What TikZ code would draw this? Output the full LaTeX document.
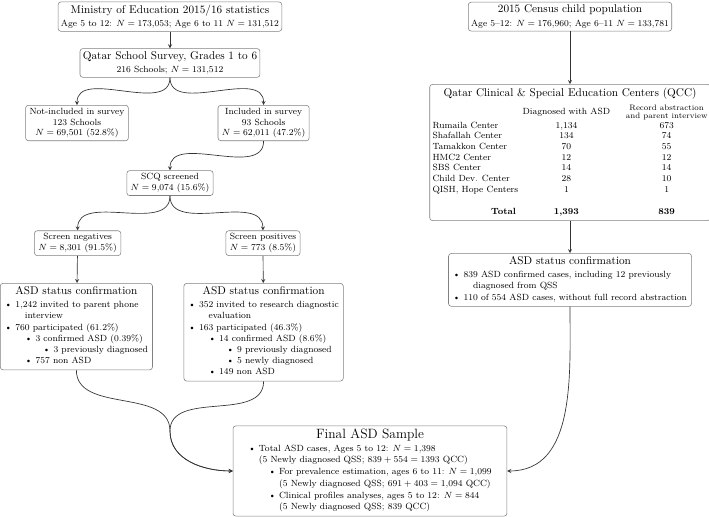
\documentclass[tikz,border=0pt]{standalone}
\usepackage{tikz}
\usetikzlibrary{arrows,backgrounds,calc}
\usepackage{amssymb}
\usepackage{amsmath}
\newcommand{\itA}{\textbullet\ }
\newcommand{\itB}{\hspace*{18pt}\textbullet\ }
\newcommand{\itC}{\hspace*{34pt}\textbullet\ }
\newcommand{\itW}{\hspace*{18pt}}
\tikzset{
  box/.style={draw=black!50, line width=0.5pt, rounded corners=2.5pt, fill=white, align=center, inner sep=2.5pt},
  arr/.style={-stealth, draw=black!80, line width=0.6pt}
}
\begin{document}
\begin{tikzpicture}
\fill[white] (0cm,0cm) rectangle (22.19cm,-16.15cm);
\useasboundingbox (0cm,0cm) rectangle (22.19cm,-16.15cm);
\node[box] (ministry) at (5.32cm,-0.52cm) {Ministry of Education 2015/16 statistics\\ {\footnotesize Age 5 to 12: $N = 173{,}053$; Age 6 to 11 $N = 131{,}512$}};
\node[box] (qss) at (5.32cm,-1.97cm) {Qatar School Survey, Grades 1 to 6\\ {\footnotesize 216 Schools; $N = 131{,}512$}};
\node[box, font=\footnotesize, inner xsep=3.5pt] (notinc) at (2.41cm,-3.85cm) {Not-included in survey\\ 123 Schools\\ $N = 69{,}501$ (52.8\%)};
\node[box, font=\footnotesize, inner xsep=3.5pt] (inc) at (8.25cm,-3.85cm) {Included in survey\\ 93 Schools\\ $N = 62{,}011$ (47.2\%)};
\node[box, font=\footnotesize, inner xsep=3.5pt] (scq) at (5.32cm,-5.73cm) {SCQ screened\\ $N = 9{,}074$ (15.6\%)};
\node[box, font=\footnotesize, inner xsep=3.5pt] (neg) at (2.43cm,-7.61cm) {Screen negatives\\ $N = 8{,}301$ (91.5\%)};
\node[box, font=\footnotesize, inner xsep=3.5pt] (pos) at (8.23cm,-7.61cm) {Screen positives\\ $N = 773$ (8.5\%)};
\node[box, anchor=north, font=\footnotesize, inner xsep=4pt] (asdleft) at (2.39cm,-8.86cm) {\renewcommand{\arraystretch}{1.05}\begin{tabular}{@{}l@{}}
\multicolumn{1}{@{}c@{}}{\normalsize ASD status confirmation}\\[2pt]
\itA 1,242 invited to parent phone\\
\itW interview\\
\itA 760 participated (61.2\%)\\
\itB 3 confirmed ASD (0.39\%)\\
\itC 3 previously diagnosed\\
\itB 757 non ASD
\end{tabular}};
\node[box, anchor=north, font=\footnotesize, inner xsep=4pt] (asdmid) at (8.25cm,-8.86cm) {\renewcommand{\arraystretch}{1.05}\begin{tabular}{@{}l@{}}
\multicolumn{1}{@{}c@{}}{\normalsize ASD status confirmation}\\[2pt]
\itA 352 invited to research diagnostic\\
\itW evaluation\\
\itA 163 participated (46.3\%)\\
\itB 14 confirmed ASD (8.6\%)\\
\itC 9 previously diagnosed\\
\itC 5 newly diagnosed\\
\itB 149 non ASD
\end{tabular}};
\node[box] (census) at (17.84cm,-0.52cm) {2015 Census child population\\ {\footnotesize Age 5--12: $N = 176{,}960$; Age 6--11 $N = 133{,}781$}};
\node[box, anchor=north, minimum width=8.64cm, inner ysep=3pt] (qcc) at (17.84cm,-2.63cm) {Qatar Clinical \& Special Education Centers (QCC)\\[4pt]
{\footnotesize\begin{tabular}{@{}l@{\hspace{4pt}}c@{\hspace{14pt}}c@{}}
 & Diagnosed with ASD & {\scriptsize\renewcommand{\arraystretch}{0.9}\begin{tabular}{@{}c@{}}Record abstraction\\ and parent interview\end{tabular}}\\
Rumaila Center & 1,134 & 673\\
Shafallah Center & 134 & 74\\
Tamakkon Center & 70 & 55\\
HMC2 Center & 12 & 12\\
SBS Center & 14 & 14\\
Child Dev. Center & 28 & 10\\
QISH, Hope Centers & 1 & 1\\[10pt]
\multicolumn{1}{r}{\textbf{Total}} & \textbf{1,393} & \textbf{839}
\end{tabular}}};
\node[box, font=\footnotesize, inner xsep=4pt] (asdright) at (17.84cm,-8.76cm) {\renewcommand{\arraystretch}{1.05}\begin{tabular}{@{}l@{}}
\multicolumn{1}{@{}c@{}}{\normalsize ASD status confirmation}\\[2pt]
\itA 839 ASD confirmed cases, including 12 previously\\
\itW diagnosed from QSS\\
\itA 110 of 554 ASD cases, without full record abstraction
\end{tabular}};
\node[box, font=\footnotesize, minimum width=8.57cm, minimum height=2.75cm] (final) at (11.58cm,-14.74cm) {\renewcommand{\arraystretch}{1.1}\begin{tabular}{@{}l@{}}
\multicolumn{1}{@{}c@{}}{\large Final ASD Sample}\\[1pt]
\itA Total ASD cases, Ages 5 to 12: $N = 1{,}398$\\
\phantom{\textbullet\ }(5 Newly diagnosed QSS; $839 + 554 = 1393$ QCC)\\
\itB For prevalence estimation, ages 6 to 11: $N = 1{,}099$\\
\itW\phantom{\textbullet\ }(5 Newly diagnosed QSS; $691 + 403 = 1{,}094$ QCC)\\
\itB Clinical profiles analyses, ages 5 to 12: $N = 844$\\
\itW\phantom{\textbullet\ }(5 Newly diagnosed QSS; 839 QCC)
\end{tabular}};
\coordinate (merge) at (5.32cm,-13.49cm);
\draw[arr] (ministry) -- (qss);
\draw[arr] (qss.south) to[out=-90,in=90] (notinc.north);
\draw[arr] (qss.south) to[out=-90,in=90] (inc.north);
\draw[arr] (inc.south) to[out=-90,in=90] (scq.north);
\draw[arr] (scq.south) to[out=-90,in=90] (neg.north);
\draw[arr] (scq.south) to[out=-90,in=90] (pos.north);
\draw[arr] (neg) -- (asdleft);
\draw[arr] (pos) -- (asdmid);
\draw[arr] (census) -- (qcc);
\draw[arr] (qcc) -- (asdright);
\draw[arr] (asdleft.south) to[out=-90,in=90] (merge) to[out=-90,in=180] (final.west);
\draw[arr] (asdmid.south) to[out=-90,in=90] (merge) to[out=-90,in=180] (final.west);
\draw[arr] (asdright.south) to[out=-90,in=0] (final.east);
\end{tikzpicture}
\end{document}
